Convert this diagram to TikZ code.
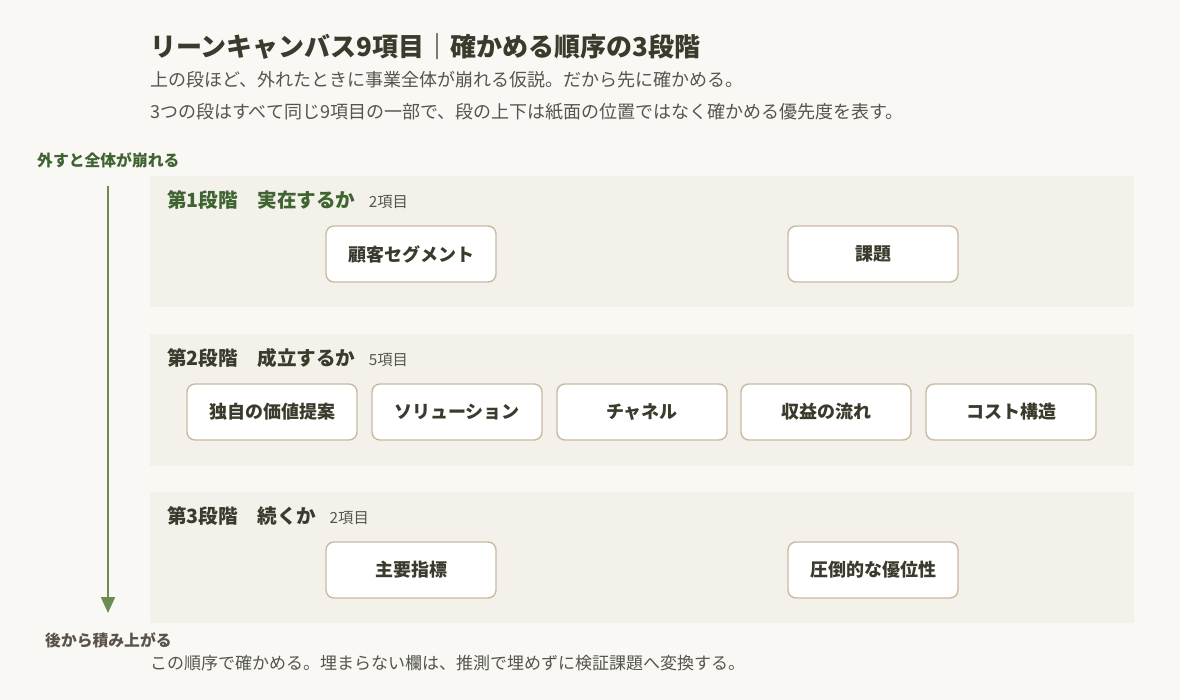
\documentclass[tikz,border=0pt]{standalone}
\usepackage{fontspec}
\setmainfont{Noto Sans CJK JP}
\usetikzlibrary{arrows.meta}
\definecolor{bgc}{HTML}{F9F8F4}
\definecolor{bandc}{HTML}{F4F1EA}
\definecolor{boxline}{HTML}{C9BAA2}
\definecolor{greent}{HTML}{3F6431}
\definecolor{arrowc}{HTML}{6B8C52}
\definecolor{darkt}{HTML}{3B3A2C}
\definecolor{grayt}{HTML}{555550}
\definecolor{browng}{HTML}{5B524A}
\begin{document}
\begin{tikzpicture}[x=1pt,y=-1pt,
  txt/.style={inner sep=0pt, anchor=west},
  band/.style={fill=bandc, draw=none},
  item/.style={draw=boxline, line width=1.4pt, fill=white, rounded corners=8pt,
     minimum width=170pt, minimum height=56pt, inner sep=0pt,
     font=\fontsize{18}{21}\selectfont\bfseries, text=darkt},
  stagehead/.style={inner sep=0pt, anchor=west, font=\fontsize{19.6}{23}\selectfont\bfseries},
  stagecount/.style={inner sep=0pt, anchor=base west, font=\fontsize{15.3}{18}\selectfont, text=grayt},
  sub/.style={inner sep=0pt, anchor=west, font=\fontsize{18}{21}\selectfont, text=grayt},
  sidelabel/.style={inner sep=0pt, anchor=west, font=\fontsize{15.8}{18}\selectfont\bfseries},
  flow/.style={draw=arrowc, line width=2pt, -{Triangle[length=16pt,width=14pt]}}
]
\useasboundingbox (0,0) rectangle (1180,700);
\fill[bgc] (0,0) rectangle (1180,700);

% title and subtitles
\node[txt, font=\fontsize{26}{30}\selectfont\bfseries, text=darkt] (title) at (150,47) {リーンキャンバス9項目｜確かめる順序の3段階};
\node[sub] (sub1) at (150,80) {上の段ほど、外れたときに事業全体が崩れる仮説。だから先に確かめる。};
\node[sub] (sub2) at (150,112) {3つの段はすべて同じ9項目の一部で、段の上下は紙面の位置ではなく確かめる優先度を表す。};

% bands
\fill[band] (150,176) rectangle (1134,307);
\fill[band] (150,334) rectangle (1134,466);
\fill[band] (150,492) rectangle (1134,623);

% stage 1
\node[stagehead, text=greent] (h1) at (167,200) {第1段階　実在するか};
\node[stagecount] (c1) at ([xshift=13pt]h1.base east) {2項目};
\node[item] (s1a) at (411,254) {顧客セグメント};
\node[item] (s1b) at (873,254) {課題};

% stage 2
\node[stagehead, text=darkt] (h2) at (167,358) {第2段階　成立するか};
\node[stagecount] (c2) at ([xshift=13pt]h2.base east) {5項目};
\node[item] (s2a) at (272,412) {独自の価値提案};
\node[item] (s2b) at (457,412) {ソリューション};
\node[item] (s2c) at (642,412) {チャネル};
\node[item] (s2d) at (826,412) {収益の流れ};
\node[item] (s2e) at (1011,412) {コスト構造};

% stage 3
\node[stagehead, text=darkt] (h3) at (167,516) {第3段階　続くか};
\node[stagecount] (c3) at ([xshift=13pt]h3.base east) {2項目};
\node[item] (s3a) at (411,570) {主要指標};
\node[item] (s3b) at (873,570) {圧倒的な優位性};

% side arrow
\node[sidelabel, text=greent] (top) at (37,160) {外すと全体が崩れる};
\coordinate (astart) at (108,186);
\coordinate (aend) at (108,613);
\draw[flow] (astart) -- (aend);
\node[sidelabel, text=browng] (bottom) at (45,640) {後から積み上がる};

% footer
\node[txt, font=\fontsize{17}{20}\selectfont, text=grayt] (foot) at (150,663) {この順序で確かめる。埋まらない欄は、推測で埋めずに検証課題へ変換する。};
\end{tikzpicture}
\end{document}
